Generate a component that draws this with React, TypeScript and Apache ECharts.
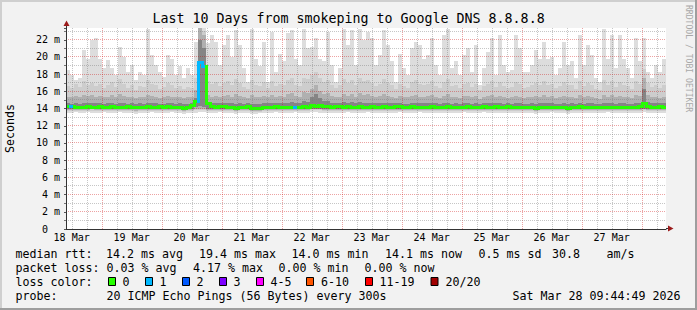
import React, { useEffect, useRef } from 'react';
import * as echarts from 'echarts';

// ---- time layout (hours since 18 Mar 00:00) ----
const START_HOUR = 9 + 44 / 60 + 49 / 3600; // Wed Mar 18 09:44:49
const SPAN_HOURS = 240;
const BIN_HOURS = 1.6;
const Y_MAX = 23.37;

const dayLabels = ['18 Mar', '19 Mar', '20 Mar', '21 Mar', '22 Mar', '23 Mar', '24 Mar', '25 Mar', '26 Mar', '27 Mar'];
const dayLabelHours = [12, 36, 60, 84, 108, 132, 156, 180, 204, 228];

// ---- smoke (ms) per bin ----
const maxRtt = [
  18.5, 17.9, 17.3, 17.5, 20.8, 19.8, 22.0, 22.2, 19.8, 18.7,
  19.6, 18.7, 17.9, 21.2, 20.0, 18.3, 19.1, 17.3, 18.3, 17.9,
  23.3, 20.2, 19.1, 18.3, 17.7, 20.2, 19.8, 17.9, 18.9, 17.5,
  18.7, 17.9, 21.8, 23.4, 23.4, 21.6, 22.6, 21.8, 19.1, 21.4,
  22.6, 20.0, 23.1, 21.4, 18.7, 17.1, 23.3, 19.8, 18.9, 21.8,
  17.1, 22.9, 18.3, 20.4, 19.5, 22.8, 23.1, 19.8, 19.1, 23.3,
  21.0, 21.2, 22.2, 19.8, 19.5, 22.9, 19.1, 17.1, 18.7, 23.3,
  21.4, 23.1, 19.1, 23.3, 22.0, 22.9, 22.2, 19.1, 20.2, 23.1,
  21.4, 19.5, 17.1, 20.4, 18.7, 17.9, 21.0, 21.8, 21.4, 19.8,
  20.2, 22.2, 19.1, 17.9, 22.6, 23.3, 18.7, 19.5, 17.9, 20.2,
  21.0, 18.3, 21.4, 16.7, 18.7, 20.6, 22.2, 17.9, 22.6, 19.1,
  18.3, 18.5, 22.6, 21.0, 18.3, 18.3, 19.1, 20.8, 19.8, 21.8,
  19.8, 20.0, 17.9, 18.7, 21.8, 19.1, 19.5, 17.5, 22.6, 19.1,
  21.4, 20.2, 17.5, 17.1, 23.3, 19.8, 22.6, 18.7, 22.6, 19.8,
  18.7, 17.5, 22.2, 19.5, 22.2, 18.3, 17.5, 19.1, 18.3, 19.8,
];
const q90 = [
  16.6, 16.4, 16.9, 16.5, 17.2, 16.8, 17.0, 16.6, 16.9, 16.4,
  16.7, 17.1, 16.5, 17.4, 16.9, 16.4, 16.8, 16.2, 16.6, 16.5,
  17.3, 16.9, 16.7, 16.3, 16.5, 17.0, 16.8, 16.4, 16.6, 16.3,
  16.5, 16.4, 17.5, 23.4, 23.0, 17.2, 16.9, 17.1, 16.6, 17.0,
  17.2, 16.8, 17.4, 17.0, 16.5, 16.3, 17.3, 16.8, 16.6, 17.1,
  16.4, 17.2, 16.6, 16.9, 16.7, 17.3, 17.5, 16.8, 16.6, 17.6,
  17.4, 17.9, 18.2, 17.5, 17.1, 17.3, 16.8, 16.4, 16.7, 17.4,
  17.0, 17.3, 16.7, 17.5, 17.2, 17.3, 17.0, 16.6, 16.9, 17.4,
  17.0, 16.8, 16.3, 16.9, 16.6, 16.4, 17.1, 17.3, 16.9, 16.7,
  16.9, 17.2, 16.6, 16.4, 17.1, 17.4, 16.6, 16.8, 16.4, 16.9,
  17.0, 16.5, 16.9, 16.2, 16.6, 16.9, 17.2, 16.5, 17.1, 16.6,
  16.4, 16.5, 17.1, 16.9, 16.4, 16.5, 16.7, 17.0, 16.8, 17.2,
  16.8, 16.9, 16.4, 16.6, 17.1, 16.7, 16.8, 16.3, 17.2, 16.6,
  17.0, 16.8, 16.3, 16.2, 17.3, 16.8, 17.2, 16.5, 17.1, 16.7,
  16.6, 16.3, 17.2, 16.9, 18.6, 17.0, 16.5, 16.8, 16.4, 16.7,
];
const q75 = [
  15.4, 15.3, 15.5, 15.3, 15.6, 15.5, 15.6, 15.4, 15.5, 15.3,
  15.4, 15.6, 15.3, 15.7, 15.5, 15.3, 15.4, 15.2, 15.4, 15.3,
  15.6, 15.5, 15.4, 15.2, 15.3, 15.5, 15.4, 15.3, 15.4, 15.2,
  15.3, 15.4, 16.2, 23.4, 22.5, 15.6, 15.4, 15.5, 15.3, 15.5,
  15.6, 15.4, 15.7, 15.5, 15.3, 15.2, 15.6, 15.4, 15.3, 15.5,
  15.3, 15.6, 15.4, 15.5, 15.4, 15.7, 15.8, 15.5, 15.4, 15.9,
  15.8, 16.3, 16.8, 16.1, 15.7, 15.8, 15.5, 15.3, 15.4, 15.7,
  15.5, 15.7, 15.4, 15.8, 15.6, 15.7, 15.5, 15.4, 15.5, 15.7,
  15.5, 15.4, 15.2, 15.5, 15.3, 15.3, 15.5, 15.6, 15.4, 15.4,
  15.5, 15.6, 15.3, 15.2, 15.5, 15.7, 15.3, 15.4, 15.2, 15.5,
  15.5, 15.3, 15.5, 15.1, 15.3, 15.5, 15.6, 15.3, 15.5, 15.3,
  15.2, 15.3, 15.5, 15.4, 15.2, 15.3, 15.4, 15.5, 15.4, 15.6,
  15.4, 15.5, 15.2, 15.3, 15.5, 15.4, 15.4, 15.2, 15.6, 15.3,
  15.5, 15.4, 15.2, 15.1, 15.6, 15.4, 15.6, 15.3, 15.5, 15.4,
  15.3, 15.2, 15.6, 15.5, 17.6, 15.6, 15.3, 15.4, 15.2, 15.4,
];
const q60 = [
  14.6, 14.5, 14.6, 14.5, 14.7, 14.6, 14.7, 14.6, 14.6, 14.5,
  14.6, 14.7, 14.5, 14.7, 14.6, 14.5, 14.6, 14.5, 14.6, 14.5,
  14.7, 14.6, 14.6, 14.5, 14.5, 14.6, 14.6, 14.5, 14.6, 14.5,
  14.5, 14.7, 15.2, 22.0, 21.0, 14.8, 14.6, 14.6, 14.6, 14.6,
  14.7, 14.6, 14.5, 14.6, 14.5, 14.6, 14.5, 14.5, 14.5, 14.6,
  14.6, 14.7, 14.6, 14.6, 14.6, 14.7, 14.8, 14.6, 14.6, 14.9,
  14.8, 15.4, 15.7, 15.2, 14.9, 14.9, 14.7, 14.6, 14.7, 14.8,
  14.7, 14.8, 14.6, 14.8, 14.7, 14.7, 14.7, 14.6, 14.6, 14.7,
  14.6, 14.6, 14.6, 14.7, 14.5, 14.5, 14.7, 14.6, 14.6, 14.6,
  14.6, 14.7, 14.6, 14.5, 14.6, 14.7, 14.5, 14.6, 14.5, 14.6,
  14.7, 14.5, 14.6, 14.5, 14.6, 14.6, 14.6, 14.6, 14.6, 14.5,
  14.6, 14.5, 14.6, 14.6, 14.5, 14.5, 14.6, 14.5, 14.6, 14.6,
  14.6, 14.6, 14.5, 14.5, 14.6, 14.5, 14.6, 14.5, 14.7, 14.5,
  14.6, 14.6, 14.5, 14.5, 14.7, 14.6, 14.6, 14.5, 14.6, 14.6,
  14.5, 14.5, 14.6, 14.7, 16.3, 14.8, 14.6, 14.6, 14.6, 14.6,
];
const q40 = [
  13.9, 13.9, 13.9, 13.9, 14.0, 13.9, 14.0, 13.9, 13.9, 13.9,
  13.9, 14.0, 13.9, 13.9, 13.9, 13.9, 13.9, 13.9, 13.9, 13.9,
  14.0, 13.9, 13.9, 13.9, 13.9, 13.9, 13.9, 13.9, 13.9, 13.8,
  13.9, 14.0, 14.2, 14.3, 14.2, 14.0, 13.9, 13.9, 13.9, 13.9,
  13.9, 13.9, 13.8, 13.9, 13.9, 13.9, 13.8, 13.8, 13.8, 13.9,
  13.9, 13.9, 13.9, 13.9, 13.9, 13.9, 13.9, 13.9, 13.9, 14.0,
  13.9, 14.0, 14.0, 14.0, 13.9, 13.9, 13.9, 13.9, 13.9, 13.9,
  13.9, 13.9, 13.9, 13.9, 13.9, 13.9, 13.9, 13.9, 13.9, 13.9,
  13.9, 13.9, 13.9, 14.0, 13.9, 13.9, 13.9, 13.9, 13.9, 13.9,
  13.9, 13.9, 13.9, 13.9, 13.9, 13.9, 13.9, 13.9, 13.9, 13.9,
  13.9, 13.9, 13.9, 13.9, 13.9, 13.9, 13.9, 13.9, 13.9, 13.9,
  13.9, 13.9, 13.9, 13.9, 13.9, 13.9, 13.9, 13.8, 13.9, 13.9,
  13.9, 13.9, 13.9, 13.9, 13.9, 13.8, 13.9, 13.9, 13.9, 13.9,
  13.9, 13.9, 13.9, 13.9, 13.9, 13.9, 13.9, 13.9, 13.9, 13.9,
  13.9, 13.9, 13.9, 13.9, 14.0, 13.9, 13.9, 13.9, 13.9, 13.9,
];
const q25 = [
  13.8, 13.8, 13.8, 13.8, 13.8, 13.8, 13.9, 13.8, 13.8, 13.8,
  13.8, 13.8, 13.8, 13.8, 13.8, 13.8, 13.8, 13.7, 13.8, 13.8,
  13.8, 13.8, 13.8, 13.8, 13.8, 13.8, 13.8, 13.8, 13.8, 13.7,
  13.8, 13.8, 13.9, 14.0, 13.9, 13.8, 13.8, 13.8, 13.8, 13.8,
  13.8, 13.8, 13.7, 13.8, 13.8, 13.8, 13.7, 13.7, 13.7, 13.8,
  13.8, 13.8, 13.8, 13.8, 13.8, 13.8, 13.8, 13.8, 13.8, 13.8,
  13.8, 13.9, 13.9, 13.9, 13.8, 13.8, 13.8, 13.8, 13.8, 13.8,
  13.8, 13.8, 13.8, 13.8, 13.8, 13.8, 13.8, 13.8, 13.8, 13.8,
  13.8, 13.8, 13.8, 13.8, 13.8, 13.8, 13.8, 13.8, 13.8, 13.8,
  13.8, 13.8, 13.8, 13.8, 13.8, 13.8, 13.8, 13.8, 13.8, 13.8,
  13.8, 13.8, 13.8, 13.8, 13.8, 13.8, 13.8, 13.8, 13.8, 13.8,
  13.8, 13.8, 13.8, 13.8, 13.8, 13.8, 13.8, 13.7, 13.8, 13.8,
  13.8, 13.8, 13.8, 13.8, 13.8, 13.7, 13.8, 13.8, 13.8, 13.8,
  13.8, 13.8, 13.8, 13.8, 13.8, 13.8, 13.8, 13.8, 13.8, 13.8,
  13.8, 13.8, 13.8, 13.8, 13.9, 13.8, 13.8, 13.8, 13.8, 13.8,
];
const q10 = [
  13.7, 13.7, 13.7, 13.7, 13.7, 13.7, 13.7, 13.7, 13.7, 13.7,
  13.7, 13.7, 13.7, 13.7, 13.7, 13.7, 13.7, 13.6, 13.7, 13.7,
  13.7, 13.7, 13.7, 13.7, 13.7, 13.7, 13.7, 13.7, 13.7, 13.6,
  13.7, 13.7, 13.8, 13.8, 13.8, 13.7, 13.7, 13.7, 13.7, 13.7,
  13.7, 13.7, 13.6, 13.7, 13.7, 13.7, 13.6, 13.6, 13.6, 13.7,
  13.7, 13.7, 13.7, 13.7, 13.7, 13.7, 13.7, 13.7, 13.7, 13.7,
  13.7, 13.8, 13.8, 13.8, 13.7, 13.7, 13.7, 13.7, 13.7, 13.7,
  13.7, 13.7, 13.7, 13.7, 13.7, 13.7, 13.7, 13.7, 13.7, 13.7,
  13.7, 13.7, 13.7, 13.7, 13.7, 13.7, 13.7, 13.7, 13.7, 13.7,
  13.7, 13.7, 13.7, 13.7, 13.7, 13.7, 13.7, 13.7, 13.7, 13.7,
  13.7, 13.7, 13.7, 13.7, 13.7, 13.7, 13.7, 13.7, 13.7, 13.7,
  13.7, 13.7, 13.7, 13.7, 13.7, 13.7, 13.7, 13.6, 13.7, 13.7,
  13.7, 13.7, 13.7, 13.7, 13.7, 13.6, 13.7, 13.7, 13.7, 13.7,
  13.7, 13.7, 13.7, 13.7, 13.7, 13.7, 13.7, 13.7, 13.7, 13.7,
  13.7, 13.7, 13.7, 13.7, 13.8, 13.7, 13.7, 13.7, 13.7, 13.7,
];
const minRtt = [
  13.5, 13.5, 13.6, 13.5, 13.5, 13.6, 13.5, 13.5, 13.5, 13.6,
  13.5, 13.5, 13.5, 13.6, 13.5, 13.5, 13.5, 13.4, 13.5, 13.5,
  13.5, 13.6, 13.5, 13.5, 13.5, 13.5, 13.6, 13.5, 13.5, 13.4,
  13.5, 13.5, 13.5, 13.6, 13.6, 13.5, 13.5, 13.5, 13.6, 13.5,
  13.5, 13.5, 13.4, 13.5, 13.5, 13.5, 13.4, 13.4, 13.5, 13.5,
  13.5, 13.5, 13.6, 13.5, 13.5, 13.5, 13.5, 13.6, 13.5, 13.5,
  13.5, 13.6, 13.6, 13.5, 13.5, 13.5, 13.5, 13.5, 13.5, 13.5,
  13.6, 13.5, 13.5, 13.5, 13.5, 13.6, 13.5, 13.5, 13.5, 13.5,
  13.5, 13.5, 13.5, 13.6, 13.5, 13.5, 13.5, 13.5, 13.6, 13.5,
  13.5, 13.5, 13.5, 13.5, 13.5, 13.5, 13.5, 13.5, 13.5, 13.6,
  13.5, 13.5, 13.5, 13.5, 13.6, 13.5, 13.5, 13.5, 13.5, 13.5,
  13.5, 13.5, 13.5, 13.5, 13.5, 13.5, 13.5, 13.4, 13.5, 13.5,
  13.5, 13.6, 13.5, 13.5, 13.5, 13.4, 13.5, 13.5, 13.5, 13.5,
  13.5, 13.5, 13.5, 13.5, 13.5, 13.6, 13.5, 13.5, 13.5, 13.5,
  13.5, 13.5, 13.5, 13.5, 13.6, 13.5, 13.5, 13.5, 13.5, 13.5,
];
const medianRtt = [
  14.3, 14.3, 14.2, 14.2, 14.2, 14.3, 14.2, 14.2, 14.3, 14.2,
  14.2, 14.3, 14.2, 14.2, 14.2, 14.3, 14.2, 14.2, 14.2, 14.2,
  14.3, 14.2, 14.2, 14.3, 14.2, 14.3, 14.2, 14.2, 14.2, 14.1,
  14.2, 14.4, 14.9, 19.4, 19.0, 14.6, 14.3, 14.2, 14.3, 14.3,
  14.2, 14.2, 14.1, 14.2, 14.2, 14.3, 14.1, 14.1, 14.1, 14.2,
  14.2, 14.2, 14.3, 14.2, 14.2, 14.2, 14.2, 14.2, 14.2, 14.3,
  14.2, 14.4, 14.3, 14.4, 14.3, 14.3, 14.2, 14.3, 14.3, 14.2,
  14.3, 14.2, 14.2, 14.3, 14.2, 14.2, 14.3, 14.2, 14.2, 14.3,
  14.2, 14.2, 14.3, 14.3, 14.2, 14.2, 14.3, 14.2, 14.2, 14.2,
  14.2, 14.3, 14.2, 14.2, 14.2, 14.3, 14.2, 14.2, 14.2, 14.2,
  14.3, 14.2, 14.2, 14.2, 14.3, 14.2, 14.2, 14.3, 14.2, 14.2,
  14.3, 14.2, 14.2, 14.2, 14.2, 14.2, 14.2, 14.1, 14.2, 14.2,
  14.2, 14.2, 14.2, 14.2, 14.2, 14.1, 14.2, 14.2, 14.3, 14.2,
  14.2, 14.2, 14.2, 14.2, 14.2, 14.2, 14.2, 14.2, 14.2, 14.2,
  14.2, 14.2, 14.2, 14.3, 14.6, 14.3, 14.2, 14.2, 14.3, 14.2,
];
// [bin index, lost pings]
const lossBins = [[1, 1], [33, 1], [34, 1], [57, 1]];

// ---- legend ----
const rttLegend = ['median rtt:', '14.2 ms avg', '19.4 ms max', '14.0 ms min', '14.1 ms now', '0.5 ms sd', '30.8', 'am/s'];
const lossLegend = ['packet loss:', '0.03 % avg', '4.17 % max', '0.00 % min', '0.00 % now'];
const lossColorTitle = 'loss color:';
const lossColorLabels = ['0', '1', '2', '3', '4-5', '6-10', '11-19', '20/20'];
const lossColors = ['#26ff00', '#00b8ff', '#0059ff', '#7e00ff', '#ff00ff', '#ff5500', '#ff0000', '#a10000'];
const probeLegend = ['probe:', '20 ICMP Echo Pings (56 Bytes) every 300s', 'Sat Mar 28 09:44:49 2026'];
const titleText = 'Last 10 Days from smokeping to Google DNS 8.8.8.8';
const yAxisName = 'Seconds';
const watermark = 'RRDTOOL / TOBI OETIKER';

const FONT = "'DejaVu Sans Mono', monospace";
const MAJOR_GRID = 'rgba(205,0,0,0.36)';
const MINOR_GRID = 'rgba(120,120,120,0.42)';

function lossColor(n: number) {
  if (n <= 0) return lossColors[0];
  if (n === 1) return lossColors[1];
  if (n === 2) return lossColors[2];
  if (n === 3) return lossColors[3];
  if (n <= 5) return lossColors[4];
  if (n <= 10) return lossColors[5];
  if (n <= 19) return lossColors[6];
  return lossColors[7];
}

const binStart = (i: number) => START_HOUR + i * BIN_HOURS;

function band(lo: number[], hi: number[], color: string, z: number) {
  return {
    type: 'custom',
    z,
    silent: true,
    clip: true,
    encode: { x: [0, 1], y: [2, 3] },
    data: lo.map((v, i) => [binStart(i), binStart(i + 1), v, hi[i]]),
    renderItem: (_p: any, api: any) => {
      const a = api.coord([api.value(0), api.value(3)]);
      const b = api.coord([api.value(1), api.value(2)]);
      const x0 = Math.round(a[0]);
      const x1 = Math.round(b[0]);
      const y0 = Math.round(a[1]);
      const y1 = Math.round(b[1]);
      return {
        type: 'rect',
        shape: { x: x0, y: y0, width: x1 - x0, height: Math.max(0, y1 - y0) },
        style: { fill: color },
      };
    },
  };
}

function buildOption() {
  const lossAt = (i: number) => {
    const f = lossBins.find((b) => b[0] === i);
    return f ? f[1] : 0;
  };

  const vGrid: number[][] = [];
  for (let h = Math.ceil(START_HOUR / 6) * 6; h < START_HOUR + SPAN_HOURS; h += 6) {
    vGrid.push([h, 0, h % 24 === 0 ? 1 : 0]);
  }
  const hGrid: number[][] = [];
  for (let v = 1; v <= Math.floor(Y_MAX); v++) {
    hGrid.push([START_HOUR, v, v % 2 === 0 ? 1 : 0]);
  }

  const txt = (text: string, x: number, y: number, size: number, extra: any = {}) => ({
    type: 'text',
    x,
    y,
    silent: true,
    ...extra,
    style: {
      text,
      fill: extra.fill || '#000',
      font: `${size}px ${FONT}`,
      textAlign: extra.align || 'left',
      textVerticalAlign: 'middle',
      align: extra.align || 'left',
      verticalAlign: 'middle',
    },
  });

  const LS = 11.63;
  const rttX = [15.5, 106, 199, 291.5, 385, 478.5, 552, 606.5];
  const lossX = [15.5, 106.5, 193, 278.5, 364.5];
  const boxX = [108, 145, 182, 219, 256, 306, 365, 430.5];
  const boxLabelX = [122.5, 159.5, 196.5, 233.5, 270.5, 321, 379.5, 445.5];
  const probeX = [15.5, 106.5, 512.5];
  const rows = [253.5, 267.5, 281.5, 295.5];

  const graphics: any[] = [
    { type: 'rect', silent: true, shape: { x: 0, y: 0, width: 697, height: 2 }, style: { fill: '#cfcfcf' } },
    { type: 'rect', silent: true, shape: { x: 0, y: 0, width: 2, height: 310 }, style: { fill: '#cfcfcf' } },
    { type: 'rect', silent: true, shape: { x: 0, y: 308, width: 697, height: 2 }, style: { fill: '#9e9e9e' } },
    { type: 'rect', silent: true, shape: { x: 695, y: 0, width: 2, height: 310 }, style: { fill: '#9e9e9e' } },
    txt(titleText, 348.5, 18.7, 13.3, { align: 'center' }),
    txt(yAxisName, 10, 128.5, LS, { align: 'center', rotation: Math.PI / 2 }),
    txt(watermark, 689, 5, 8.1, { rotation: -Math.PI / 2, fill: '#a8a8a8' }),
    // axis extensions + arrows
    { type: 'line', silent: true, shape: { x1: 66.5, y1: 28, x2: 66.5, y2: 24 }, style: { stroke: '#333', lineWidth: 1 } },
    { type: 'polygon', silent: true, shape: { points: [[66.5, 20.5], [63.5, 26], [69.5, 26]] }, style: { fill: '#9b1b1b' } },
    { type: 'line', silent: true, shape: { x1: 666, y1: 228.5, x2: 669, y2: 228.5 }, style: { stroke: '#333', lineWidth: 1 } },
    { type: 'polygon', silent: true, shape: { points: [[673.5, 228.5], [668, 225.5], [668, 231.5]] }, style: { fill: '#9b1b1b' } },
  ];
  rttLegend.forEach((t, i) => graphics.push(txt(t, rttX[i], rows[0], LS)));
  lossLegend.forEach((t, i) => graphics.push(txt(t, lossX[i], rows[1], LS)));
  graphics.push(txt(lossColorTitle, 15.5, rows[2], LS));
  lossColorLabels.forEach((t, i) => {
    graphics.push({
      type: 'rect',
      silent: true,
      shape: { x: boxX[i] + 0.5, y: 277.5, width: 7, height: 8 },
      style: { fill: lossColors[i], stroke: '#000', lineWidth: 1 },
    });
    graphics.push(txt(t, boxLabelX[i], rows[2], LS));
  });
  probeLegend.forEach((t, i) => graphics.push(txt(t, probeX[i], rows[3], LS)));

  return {
    animation: false,
    backgroundColor: '#f2f2f2',
    grid: { left: 66, top: 28, width: 600, height: 201, show: true, backgroundColor: '#ffffff', borderWidth: 0 },
    xAxis: {
      type: 'value',
      min: START_HOUR,
      max: START_HOUR + SPAN_HOURS,
      z: 10,
      splitLine: { show: false },
      axisLine: { show: true, lineStyle: { color: '#333', width: 1 } },
      axisTick: { show: false },
      axisLabel: {
        customValues: dayLabelHours,
        formatter: (v: number) => dayLabels[dayLabelHours.indexOf(Math.round(v))] || '',
        fontFamily: FONT,
        fontSize: 10,
        color: '#000',
        margin: 3,
        showMinLabel: true,
        showMaxLabel: true,
      },
    },
    yAxis: {
      type: 'value',
      min: 0,
      max: Y_MAX,
      interval: 2,
      z: 10,
      splitLine: { show: false },
      axisLine: { show: true, lineStyle: { color: '#333', width: 1 } },
      axisTick: { show: true, length: 2, lineStyle: { color: '#555' } },
      minorTick: { show: true, splitNumber: 2, length: 2, lineStyle: { color: '#777' } },
      axisLabel: {
        formatter: (v: number) => (v === 0 ? '0\u00a0\u00a0' : `${v} m`),
        fontFamily: FONT,
        fontSize: 10,
        color: '#000',
        margin: 6,
        showMaxLabel: false,
      },
    },
    series: [
      band(minRtt, maxRtt, '#dddddd', 2),
      band(q10, q90, '#cdcdcd', 2),
      band(q25, q75, '#b0b0b0', 2),
      band(q40, q60, '#858585', 2),
      {
        type: 'custom',
        z: 3,
        silent: true,
        encode: { x: 0, y: 1 },
        data: vGrid,
        renderItem: (_p: any, api: any) => {
          const h = api.value(0);
          const a = api.coord([h, 0]);
          const b = api.coord([h, Y_MAX]);
          const x = Math.round(a[0]) + 0.5;
          return {
            type: 'line',
            shape: { x1: x, y1: Math.round(b[1]), x2: x, y2: Math.round(a[1]) },
            style: { stroke: api.value(2) ? MAJOR_GRID : MINOR_GRID, lineWidth: 1, lineDash: [1, 1] },
          };
        },
      },
      {
        type: 'custom',
        z: 3,
        silent: true,
        encode: { x: 0, y: 1 },
        data: hGrid,
        renderItem: (_p: any, api: any) => {
          const v = api.value(1);
          const a = api.coord([START_HOUR, v]);
          const b = api.coord([START_HOUR + SPAN_HOURS, v]);
          const y = Math.floor(a[1]) + 0.5;
          return {
            type: 'line',
            shape: { x1: Math.round(a[0]), y1: y, x2: Math.round(b[0]), y2: y },
            style: { stroke: api.value(2) ? MAJOR_GRID : MINOR_GRID, lineWidth: 1, lineDash: [1, 1] },
          };
        },
      },
      {
        type: 'custom',
        z: 4,
        silent: true,
        clip: true,
        encode: { x: [0, 1], y: [2, 3] },
        data: medianRtt.map((m, i) => [binStart(i), binStart(i + 1), i > 0 ? medianRtt[i - 1] : m, m, lossAt(i)]),
        renderItem: (_p: any, api: any) => {
          const a = api.coord([api.value(0), api.value(2)]);
          const b = api.coord([api.value(0), api.value(3)]);
          const c = api.coord([api.value(1), api.value(3)]);
          const x0 = Math.round(a[0]) + 0.5;
          const x1 = Math.round(c[0]) + 0.5;
          const yp = Math.round(a[1]) + 0.5;
          const y = Math.round(b[1]) + 0.5;
          return {
            type: 'polyline',
            shape: { points: [[x0, yp], [x0, y], [x1, y]] },
            style: { stroke: lossColor(api.value(4)), lineWidth: 3, fill: null, lineCap: 'square', lineJoin: 'miter' },
          };
        },
      },
    ],
    graphic: graphics,
  };
}

export default function App() {
  const ref = useRef<HTMLDivElement>(null);
  useEffect(() => {
    if (!ref.current) return;
    const chart = echarts.init(ref.current, null, { renderer: 'svg' });
    chart.setOption(buildOption() as any);
    return () => chart.dispose();
  }, []);
  return <div ref={ref} style={{ position: 'fixed', left: 0, top: 0, width: 697, height: 310 }} />;
}
